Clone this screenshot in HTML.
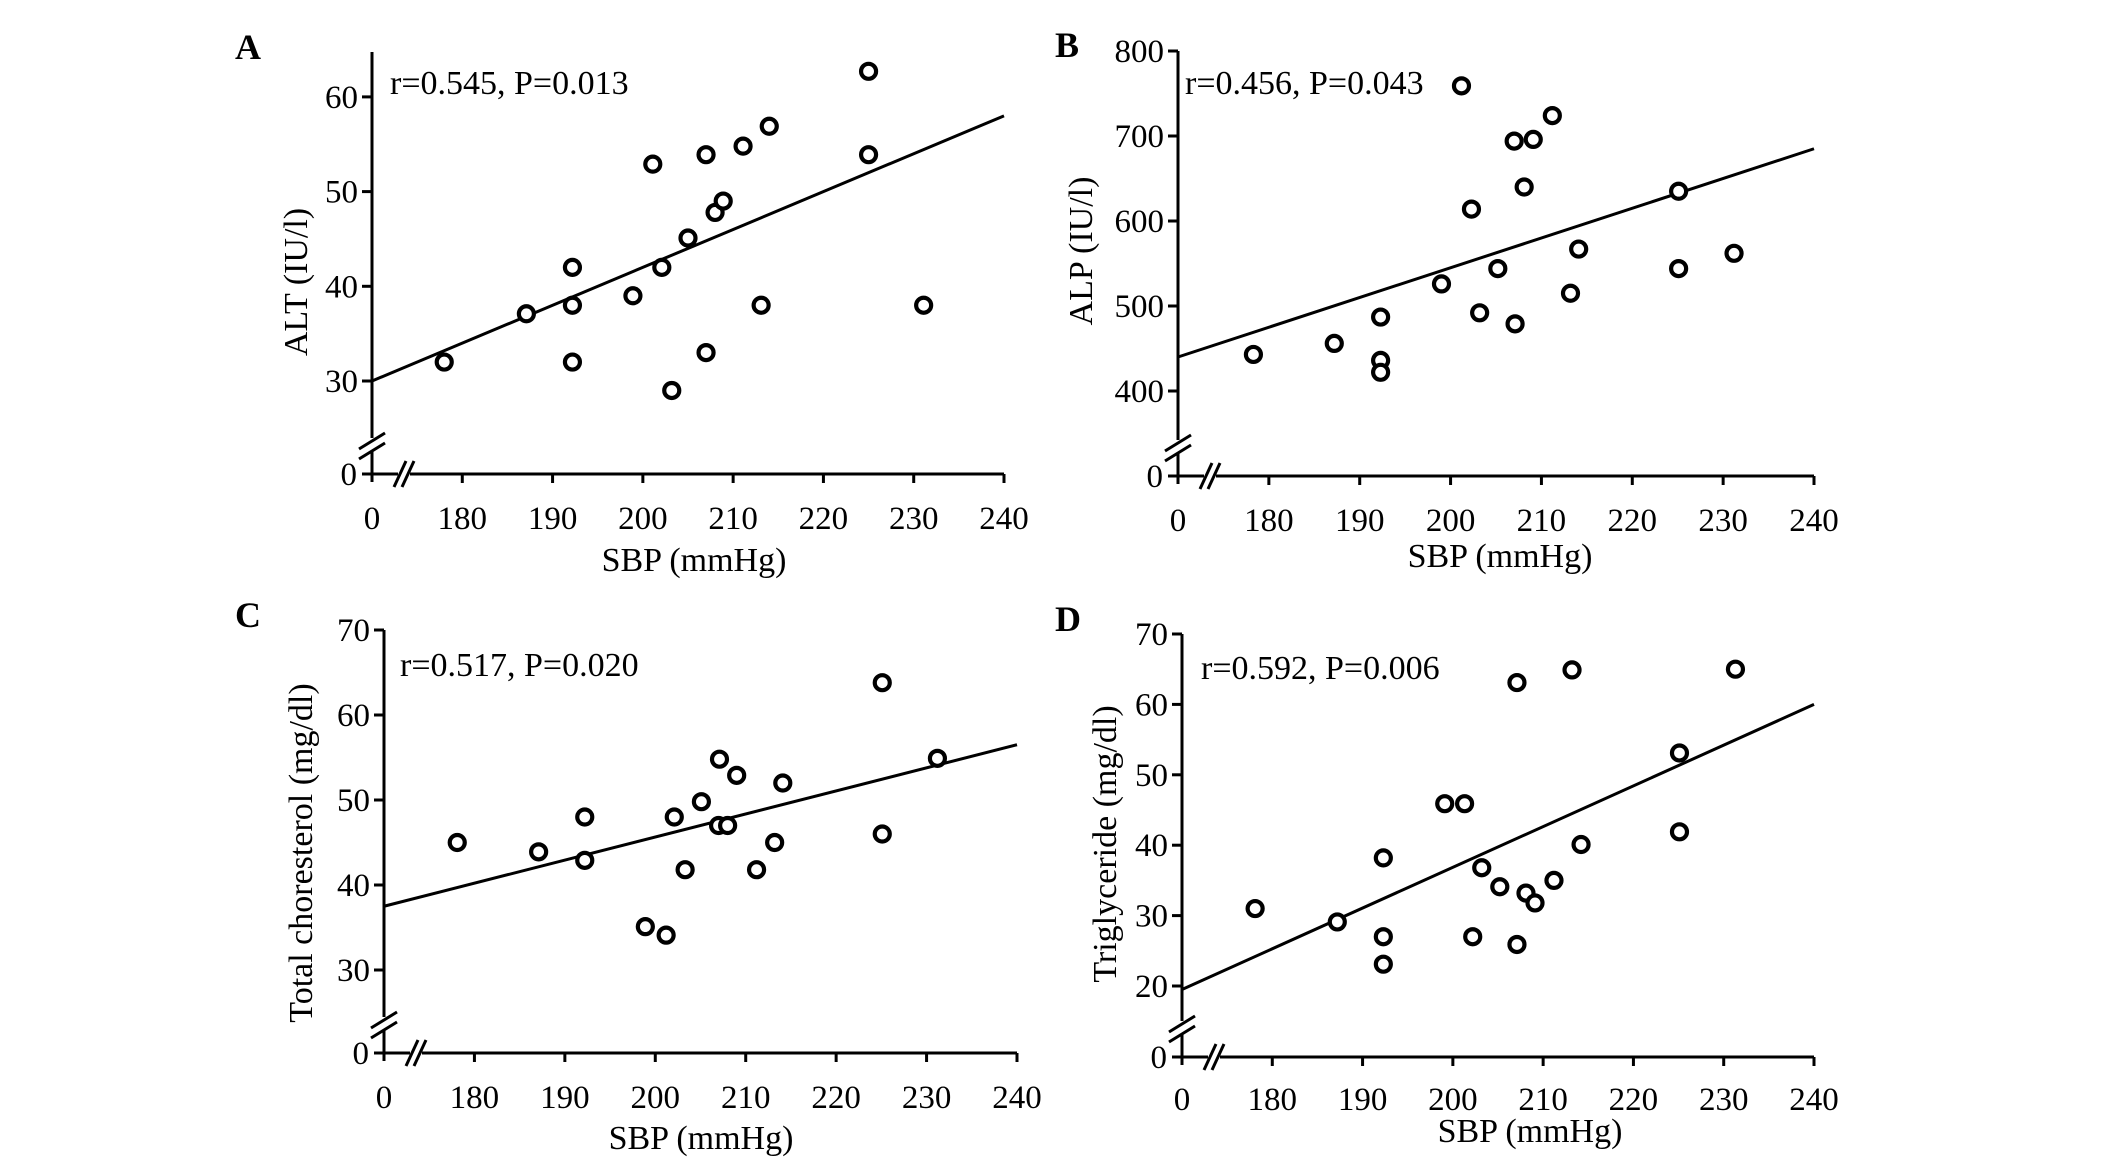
<!DOCTYPE html>
<html><head><meta charset="utf-8"><style>
html,body{margin:0;padding:0;background:#fff;}
svg{display:block;font-family:"Liberation Serif","DejaVu Serif",serif;}
</style></head><body>
<svg id="fig" width="2126" height="1171" viewBox="0 0 2126 1171"></svg>
<script>
// ---- data ----
const xTicks = [180,190,200,210,220,230,240];
const sbpA = [178,187.1,192.2,192.2,192.2,198.9,201.1,202.1,203.2,205,207,207,208,208.9,211.1,214,213.1,225,225,231.1];
const altA = [32,37.1,42,38,32,39,52.9,42,29,45.1,53.9,33,47.8,49,54.8,56.9,38,62.7,53.9,38];
const fitA = [30,58];
const yTicksA = [30,40,50,60];
const sbpB = [178.3,187.2,192.3,192.3,192.3,199,201.2,202.3,203.2,205.2,207,209.1,208.1,207.1,211.2,213.2,214.1,225.1,225.1,231.2];
const alpB = [443,456,487,436,422,526,759,614,492,544,694,696,640,479,724,515,567,635,544,562];
const fitB = [440,685];
const yTicksB = [400,500,600,700,800];
const sbpC = [178.1,187.1,192.2,192.2,198.9,201.2,202.1,203.3,205.1,207.1,207,208,209,211.2,213.2,214.1,225.1,225.1,231.2];
const cholC = [45,43.9,48,42.9,35.1,34.1,48,41.8,49.8,54.8,47,47,52.9,41.8,45,52,63.8,46,54.9];
const fitC = [37.5,56.5];
const yTicksC = [30,40,50,60,70];
const sbpD = [178.1,187.2,192.3,192.3,192.3,199.1,201.3,202.2,203.2,205.2,207.1,207.1,208.1,209.1,211.2,213.2,214.2,225.1,225.1,231.3];
const trigD = [31,29.1,38.2,27,23.1,45.9,45.9,27,36.8,34.1,63.1,25.9,33.2,31.8,35,64.9,40.1,53.1,41.9,65];
const fitD = [19.5,60];
const yTicksD = [20,30,40,50,60,70];

const NS = "http://www.w3.org/2000/svg";
const svg = document.getElementById('fig');
function mk(tag, attrs, parent){
  const e = document.createElementNS(NS, tag);
  for (const k in attrs) e.setAttribute(k, attrs[k]);
  (parent||svg).appendChild(e);
  return e;
}
function txt(s, x, y, size, anchor, parent, extra){
  const t = mk('text', Object.assign({x:x, y:y, 'font-size':size, 'text-anchor':anchor, fill:'#000'}, extra||{}), parent);
  t.textContent = s;
  return t;
}

function panel(cfg){
  const g = mk('g', {});
  
  
  const xs = v => cfg.x0 + (v - 170) * (cfg.x1 - cfg.x0) / 70;
  const ys = v => cfg.yRefPix - (v - cfg.yRef) * cfg.pxPerUnit;
  const O = cfg.origin;
  const st = {stroke:'#000', 'stroke-width':3, fill:'none'};
  // y axis (with break)
  const ya1 = mk('line', Object.assign({x1:cfg.x0, y1:cfg.top, x2:cfg.x0, y2:cfg.brk-8}, st), g);
  
  
  mk('line', Object.assign({x1:cfg.x0, y1:cfg.brk+5, x2:cfg.x0, y2:O+8}, st), g);
  [-5, 5].forEach(d => {
    const s = mk('line', Object.assign({x1:cfg.x0-13, y1:cfg.brk+d+8, x2:cfg.x0+13, y2:cfg.brk+d-8}, st), g);
    
    
  });
  // x axis (with break)
  const xa = mk('line', Object.assign({x1:cfg.x0-10, y1:O, x2:cfg.x0+26, y2:O}, st), g);
  
  
  mk('line', Object.assign({x1:cfg.x0+38, y1:O, x2:cfg.x1, y2:O}, st), g);
  [28, 36].forEach(d => {
    const s = mk('line', Object.assign({x1:cfg.x0+d-6, y1:O+13, x2:cfg.x0+d+6, y2:O-13}, st), g);
    
    
  });
  // x ticks
  const t0 = txt('0', cfg.x0, cfg.xLabY, 33, 'middle', g);
  
  
  xTicks.forEach(v => {
    mk('line', Object.assign({x1:xs(v), y1:O, x2:xs(v), y2:O+9}, st), g);
    const t = txt(String(v), xs(v), cfg.xLabY, 33, 'middle', g);
    
    
  });
  // y ticks
  const y0 = txt('0', cfg.x0-15, O+11, 33, 'end', g);
  
  
  cfg.yTicks.forEach(v => {
    mk('line', Object.assign({x1:cfg.x0-10, y1:ys(v), x2:cfg.x0, y2:ys(v)}, st), g);
    const t = txt(String(v), cfg.x0-14, ys(v)+11, 33, 'end', g);
    
    
  });
  // fit line
  const fl = mk('line', {x1:xs(170), y1:ys(cfg.fit[0]), x2:xs(240), y2:ys(cfg.fit[1]), stroke:'#000', 'stroke-width':3}, g);
  
  
  // points
  cfg.xv.forEach((xv, i) => {
    const c = mk('circle', {cx:xs(xv), cy:ys(cfg.yv[i]), r:7.5, fill:'#fff', stroke:'#000', 'stroke-width':4.2}, g);
    
    
  });
  // labels
  const L = txt(cfg.id, cfg.letterX, cfg.letterY, 36, 'start', g, {'font-weight':'bold'});
  
  
  const an = txt(cfg.stat, cfg.statX, cfg.statY, 34, 'start', g);
  
  
  const xt = txt('SBP (mmHg)', cfg.xTitleX, cfg.xTitleY, 34, 'middle', g);
  
  
  const yt = txt(cfg.yTitle, 0, 0, 34, 'middle', g, {transform:'translate(' + cfg.yTitleX + ',' + cfg.yTitleY + ') rotate(-90)'});
  
  
}

panel({id:'A', xv:sbpA, yv:altA, fit:fitA, yTicks:yTicksA, x0:372, x1:1004, yRef:30, yRefPix:381, pxPerUnit:9.47,
  top:52, brk:446, origin:474, xLabY:529, letterX:235, letterY:59, stat:'r=0.545, P=0.013', statX:390, statY:94,
  xTitleX:694, xTitleY:571, yTitle:'ALT (IU/l)', yTitleX:307, yTitleY:282});
panel({id:'B', xv:sbpB, yv:alpB, fit:fitB, yTicks:yTicksB, x0:1178, x1:1814, yRef:400, yRefPix:391, pxPerUnit:0.85,
  top:51, brk:448, origin:476, xLabY:531, letterX:1055, letterY:57, stat:'r=0.456, P=0.043', statX:1185, statY:94,
  xTitleX:1500, xTitleY:567, yTitle:'ALP (IU/l)', yTitleX:1092, yTitleY:251});
panel({id:'C', xv:sbpC, yv:cholC, fit:fitC, yTicks:yTicksC, x0:384, x1:1017, yRef:30, yRefPix:970, pxPerUnit:8.5,
  top:630, brk:1025, origin:1053, xLabY:1108, letterX:235, letterY:627, stat:'r=0.517, P=0.020', statX:400, statY:676,
  xTitleX:701, xTitleY:1149, yTitle:'Total choresterol (mg/dl)', yTitleX:312, yTitleY:853});
panel({id:'D', xv:sbpD, yv:trigD, fit:fitD, yTicks:yTicksD, x0:1182, x1:1814, yRef:20, yRefPix:986, pxPerUnit:7.04,
  top:634, brk:1029, origin:1057, xLabY:1110, letterX:1055, letterY:631, stat:'r=0.592, P=0.006', statX:1201, statY:679,
  xTitleX:1530, xTitleY:1142, yTitle:'Triglyceride (mg/dl)', yTitleX:1116, yTitleY:844});
</script>
</body></html>
